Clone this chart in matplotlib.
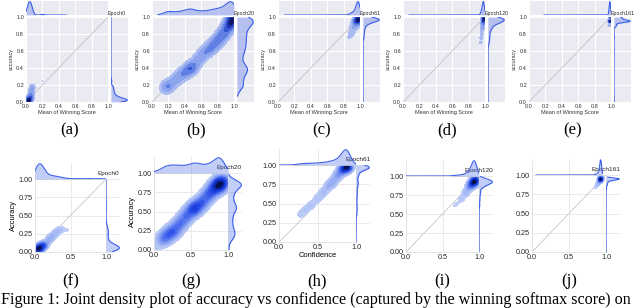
import matplotlib
matplotlib.use("Agg")
import matplotlib.pyplot as plt
from matplotlib.colors import LinearSegmentedColormap
import numpy as np

plt.rcParams['font.family'] = ['Liberation Sans', 'DejaVu Sans']

# ---- data: (confidence, accuracy, weight) per panel ----
epochs = ['Epoch0', 'Epoch20', 'Epoch61', 'Epoch120', 'Epoch161']
letters_top = ['(a)', '(b)', '(c)', '(d)', '(e)']
letters_bot = ['(f)', '(g)', '(h)', '(i)', '(j)']

# top row (a)-(e)
conf_a = [0.02, 0.035, 0.05, 0.06, 0.065, 0.07, 0.08, 0.20, 0.30, 0.40, 0.45]
acc_a = [0.01, 0.02, 0.04, 0.07, 0.11, 0.15, 0.18, 0.25, 0.50, 0.80, 1.00]
w_a = [3, 4, 3, 2, 1.5, 1.1, 0.8, 0.4, 0.02, 0.02, 0.02]

conf_b = [0.17, 0.22, 0.30, 0.38, 0.45, 0.50, 0.57, 0.63, 0.70, 0.76, 0.82, 0.87, 0.92, 0.96, 0.99]
acc_b = [0.17, 0.20, 0.27, 0.33, 0.38, 0.42, 0.50, 0.57, 0.62, 0.68, 0.74, 0.80, 0.87, 0.93, 0.98]
w_b = [0.8, 0.8, 0.9, 1.1, 1.4, 1.2, 0.9, 0.9, 1.1, 1.3, 1.3, 1.4, 1.7, 2.2, 2.6]

conf_c = [0.12, 0.30, 0.50, 0.70, 0.78, 0.87, 0.90, 0.92, 0.95, 0.97, 0.985]
acc_c = [0.00, 0.15, 0.30, 0.50, 0.63, 0.76, 0.82, 0.88, 0.93, 0.96, 0.98]
w_c = [0.01, 0.01, 0.01, 0.02, 0.06, 0.3, 0.45, 0.7, 1.3, 2.5, 3]

conf_d = [0.10, 0.30, 0.50, 0.70, 0.85, 0.95, 0.955, 0.96, 0.965, 0.97, 0.975, 0.98, 0.985]
acc_d = [0.00, 0.20, 0.40, 0.55, 0.65, 0.70, 0.75, 0.80, 0.85, 0.88, 0.92, 0.95, 0.98]
w_d = [0.01, 0.01, 0.01, 0.01, 0.02, 0.25, 0.35, 0.35, 0.45, 0.6, 1.0, 2, 3]

conf_e = [0.20, 0.50, 0.80, 0.95, 0.975, 0.98, 0.985, 0.99]
acc_e = [0.00, 0.30, 0.50, 0.62, 0.75, 0.90, 0.95, 0.99]
w_e = [0.03, 0.005, 0.01, 0.03, 0.05, 0.5, 3, 1.5]

# bottom row (f)-(j)
conf_f = [0.03, 0.06, 0.10, 0.14, 0.20, 0.25, 0.30, 0.36, 0.45, 0.60, 0.75, 0.90, 1.00]
acc_f = [0.03, 0.05, 0.08, 0.10, 0.17, 0.22, 0.27, 0.31, 0.30, 0.35, 0.40, 0.60, 1.00]
w_f = [3, 4, 3, 1.5, 1, 0.8, 0.7, 0.6, 0.3, 0.25, 0.25, 0.2, 0.05]

conf_g = [0.00, 0.12, 0.20, 0.28, 0.36, 0.44, 0.52, 0.58, 0.66, 0.74, 0.82, 0.88, 0.93]
acc_g = [0.00, 0.14, 0.20, 0.26, 0.35, 0.44, 0.52, 0.56, 0.63, 0.72, 0.80, 0.85, 0.88]
w_g = [0.3, 0.9, 1.2, 1.2, 1.1, 1.1, 1.3, 1.3, 1.2, 1.3, 1.6, 2, 1.6]

conf_h = [0.00, 0.20, 0.28, 0.35, 0.42, 0.50, 0.57, 0.64, 0.70, 0.76, 0.82, 0.87, 0.90]
acc_h = [0.00, 0.20, 0.36, 0.42, 0.48, 0.56, 0.64, 0.72, 0.78, 0.86, 0.93, 0.97, 0.98]
w_h = [0.02, 0.05, 0.3, 0.35, 0.4, 0.45, 0.55, 0.65, 0.8, 1.0, 1.8, 3, 2]

conf_i = [0.00, 0.45, 0.65, 0.70, 0.76, 0.82, 0.87, 0.91, 0.94, 0.96]
acc_i = [0.00, 0.42, 0.60, 0.63, 0.70, 0.78, 0.86, 0.90, 0.93, 0.95]
w_i = [0.01, 0.03, 0.15, 0.2, 0.4, 0.7, 1.2, 2.5, 3, 1.5]

conf_j = [0.08, 0.50, 0.85, 0.88, 0.90, 0.92, 0.93]
acc_j = [0.00, 0.50, 0.83, 0.87, 0.90, 0.93, 0.95]
w_j = [0.01, 0.005, 0.15, 0.3, 0.4, 1, 3]

top_data = [(conf_a, acc_a, w_a), (conf_b, acc_b, w_b), (conf_c, acc_c, w_c),
            (conf_d, acc_d, w_d), (conf_e, acc_e, w_e)]
bot_data = [(conf_f, acc_f, w_f), (conf_g, acc_g, w_g), (conf_h, acc_h, w_h),
            (conf_i, acc_i, w_i), (conf_j, acc_j, w_j)]

# kernel widths: joint, top marginal, right marginal
bw_top = [(0.022, 0.02, 0.02), (0.045, 0.05, 0.05), (0.03, 0.02, 0.025),
          (0.015, 0.012, 0.03), (0.011, 0.008, 0.015)]
bw_bot = [(0.035, 0.05, 0.04), (0.06, 0.06, 0.05), (0.04, 0.05, 0.03),
          (0.035, 0.03, 0.03), (0.02, 0.012, 0.012)]

BLUE = '#3b5fe8'
cmap_top = LinearSegmentedColormap.from_list(
    'jk_top', ['#b4c4f2', '#7c98ea', '#4466e0', '#1e36b8', '#080c40'])
cmap_bot = LinearSegmentedColormap.from_list(
    'jk_bot', ['#c2d0f6', '#6f8df0', '#2448e6', '#1030c8', '#050a30'])

W, H = 640, 308
fig = plt.figure(figsize=(W / 100, H / 100), dpi=100)


def px_axes(left, top, right, bottom):
    return fig.add_axes([left / W, 1 - bottom / H, (right - left) / W, (bottom - top) / H])


def kde1(g, pts, w, h):
    pts = np.asarray(pts)[:, None]
    w = np.asarray(w)[:, None]
    return (w * np.exp(-0.5 * ((g[None, :] - pts) / h) ** 2)).sum(0)


def draw_panel(data, bws, main, topm, rightm, fracs, cmap):
    x, y, w = data
    h, hx, hy = bws
    g = np.linspace(0, 1, 301)
    X, Y = np.meshgrid(g, g)
    Z = np.zeros_like(X)
    for xi, yi, wi in zip(x, y, w):
        Z += wi * np.exp(-0.5 * ((X - xi) ** 2 + (Y - yi) ** 2) / h ** 2)
    main.contourf(X, Y, Z, levels=np.array(fracs) * Z.max(), cmap=cmap, zorder=2)
    main.plot([0, 1], [0, 1], color='#bbbbbb', lw=0.5, zorder=1)
    main.set_xlim(0, 1)
    main.set_ylim(0, 1)

    gx = np.linspace(max(0, min(x) - 2 * hx), min(1, max(x) + 2 * hx), 300)
    dx = kde1(gx, x, w, hx)
    topm.fill_between(gx, 0, dx, color=BLUE, alpha=0.3, lw=0)
    topm.plot(gx, dx, color=BLUE, lw=0.8)
    topm.set_xlim(0, 1)
    topm.set_ylim(0, dx.max() * 1.05)

    gy = np.linspace(max(0, min(y) - 2 * hy), min(1, max(y) + 2 * hy), 300)
    dy = kde1(gy, y, w, hy)
    rightm.fill_betweenx(gy, 0, dy, color=BLUE, alpha=0.3, lw=0)
    rightm.plot(dy, gy, color=BLUE, lw=0.8)
    rightm.set_ylim(0, 1)
    rightm.set_xlim(0, dy.max() * 1.05)
    for m in (topm, rightm):
        m.tick_params(length=0, labelbottom=False, labelleft=False)
        for s in m.spines.values():
            s.set_visible(False)


top_fracs = [0.05, 0.15, 0.3, 0.5, 0.7, 0.85, 1.0001]
t = np.linspace(0, 1, 16)
bot_fracs = list(0.04 + 0.9601 * t ** 1.7)

# ---- top row: darkgrid look ----
top_left = [26, 152, 278, 403, 529]
tw = 82
ticks = [0, 0.2, 0.4, 0.6, 0.8, 1.0]
tick_lbl = ['0.0', '0.2', '0.4', '0.6', '0.8', '1.0']
for i in range(5):
    L = top_left[i]
    R = L + tw
    main = px_axes(L, 17, R, 102)
    topm = px_axes(L, 1, R, 15)
    rightm = px_axes(R + 3, 17, R + 20, 102)
    for ax in (main, topm, rightm):
        ax.set_facecolor('#EAEAF2')
        ax.set_axisbelow(True)
    draw_panel(top_data[i], bw_top[i], main, topm, rightm, top_fracs, cmap_top)
    main.set_xticks(ticks)
    main.set_yticks(ticks)
    main.set_xticklabels(tick_lbl)
    main.set_yticklabels(tick_lbl)
    main.tick_params(length=0, labelsize=4, pad=1.5, colors='#333333')
    topm.set_xticks(ticks)
    rightm.set_yticks(ticks)
    topm.set_yticks([])
    rightm.set_xticks([])
    for ax in (main, topm, rightm):
        ax.grid(True, color='white', lw=0.8)
        for s in ax.spines.values():
            s.set_visible(False)
    main.set_xlabel('Mean of Winning Score', fontsize=4, labelpad=1, color='#333333')
    main.set_ylabel('accuracy', fontsize=4, labelpad=2, color='#333333')
    main.text(1.0, 1.045, epochs[i], fontsize=3.8, ha='left', va='center',
              clip_on=False, color='#222222')
    fig.text((L + R) / 2 / W + 3 / W, 1 - 130 / H, letters_top[i], fontsize=12,
             family='Liberation Serif', ha='center', va='center')

# ---- bottom row: whitegrid look ----
bot_left = [35, 154, 279, 406, 532]
bot_right = [106, 228, 356, 479, 606]
bot_top = [179, 173, 165, 176, 175]
bot_bottom = [252, 250, 242, 252, 252]
bot_mains = []
for i in range(5):
    L, R, T, B = bot_left[i], bot_right[i], bot_top[i], bot_bottom[i]
    main = px_axes(L, T, R, B)
    topm = px_axes(L, T - 16, R, T)
    rightm = px_axes(R, T, R + 14, B)
    bot_mains.append(main)
    for ax in (main, topm, rightm):
        ax.set_facecolor('none')
        ax.set_axisbelow(True)
    draw_panel(bot_data[i], bw_bot[i], main, topm, rightm, bot_fracs, cmap_bot)
    main.set_xticks([0, 0.5, 1.0])
    main.set_xticklabels(['0.0', '0.5', '1.0'])
    main.set_yticks([0, 0.25, 0.5, 0.75, 1.0])
    main.set_yticklabels(['0.00', '0.25', '0.50', '0.75', '1.00'])
    main.tick_params(length=0, labelsize=5.2, pad=1.5, colors='#262626')
    topm.set_xticks([0, 0.5, 1.0])
    topm.set_yticks([])
    rightm.set_yticks([0, 0.25, 0.5, 0.75, 1.0])
    rightm.set_xticks([])
    for ax in (main, topm, rightm):
        ax.grid(True, color='#e6e6e6', lw=0.6)
    for s in main.spines.values():
        s.set_color('#e0e0e0')
        s.set_linewidth(0.6)
    main.text(1.19, 1.075, epochs[i], fontsize=4.6, ha='right', va='center',
              clip_on=False, color='#222222', zorder=5)
    fig.text((L + R) / 2 / W, 1 - 281 / H, letters_bot[i], fontsize=12,
             family='Liberation Serif', ha='center', va='center')

# axis labels that appear in the bottom row
bot_mains[0].set_ylabel('Accuracy', fontsize=5.4, labelpad=1.5)
bot_mains[1].set_ylabel('Accuracy', fontsize=5.4, labelpad=1.5)
bot_mains[2].set_xlabel('Confidence', fontsize=5.4, labelpad=1)

fig.text(1 / W, 1 - 304 / H,
         'Figure 1: Joint density plot of accuracy vs confidence (captured by the winning softmax score) on',
         fontsize=11.6, family='Liberation Serif', ha='left', va='baseline')

fig.savefig('out.png', dpi=100)
